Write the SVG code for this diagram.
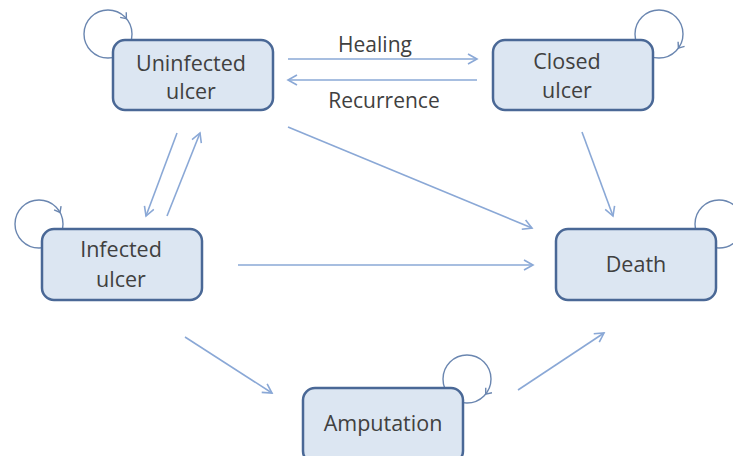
<svg xmlns="http://www.w3.org/2000/svg" xmlns:xlink="http://www.w3.org/1999/xlink" width="733" height="456" viewBox="0 0 733 456">
<style>
.box{fill:#dce6f2;stroke:#4a6896;stroke-width:2.5}
.lbl{font-family:"Open Sans","Liberation Sans",sans-serif;font-size:21.5px;fill:#404040;text-anchor:middle}
.elbl{font-family:"Open Sans","Liberation Sans",sans-serif;font-size:21px;fill:#404040;text-anchor:middle}
.edge{stroke:#8aa8d6;stroke-width:1.6;fill:none}
.loop{stroke:#6a86b0;stroke-width:1.4;fill:none}
</style>
<defs>
<marker id="arr" markerUnits="userSpaceOnUse" markerWidth="14" markerHeight="14" refX="10" refY="6" orient="auto">
<path d="M1,1 L10,6 L1,11" fill="none" stroke="#8aa8d6" stroke-width="1.6"/>
</marker>
<path id="chev" d="M-5,-4 L0,0 L-5,4" fill="none" stroke="#6a86b0" stroke-width="1.4"/>
</defs>
<g id="loops">
<circle class="loop" cx="108" cy="34" r="24"/>
<use xlink:href="#chev" transform="translate(126.4,18.6) rotate(50)"/>
<circle class="loop" cx="659" cy="34" r="24"/>
<use xlink:href="#chev" transform="translate(678.4,48.1) rotate(126)"/>
<circle class="loop" cx="39" cy="224" r="24"/>
<use xlink:href="#chev" transform="translate(60,212.4) rotate(61)"/>
<circle class="loop" cx="719" cy="224" r="24"/>
<circle class="loop" cx="467" cy="379" r="24"/>
<use xlink:href="#chev" transform="translate(485.7,394.1) rotate(129)"/>
</g>
<g id="connectors">
<line class="edge" x1="288" y1="59" x2="477" y2="59" marker-end="url(#arr)"/>
<line class="edge" x1="477" y1="80" x2="288" y2="80" marker-end="url(#arr)"/>
<line class="edge" x1="288" y1="127" x2="532" y2="228" marker-end="url(#arr)"/>
<line class="edge" x1="582" y1="132" x2="613" y2="216" marker-end="url(#arr)"/>
<line class="edge" x1="177" y1="133" x2="146" y2="216" marker-end="url(#arr)"/>
<line class="edge" x1="167" y1="216" x2="200" y2="133" marker-end="url(#arr)"/>
<line class="edge" x1="238" y1="265" x2="533" y2="265" marker-end="url(#arr)"/>
<line class="edge" x1="185" y1="337" x2="272" y2="393" marker-end="url(#arr)"/>
<line class="edge" x1="518" y1="390" x2="604" y2="333" marker-end="url(#arr)"/>
<text class="elbl" x="375" y="52">Healing</text>
<text class="elbl" x="384" y="108">Recurrence</text>
</g>
<g id="uninfected">
<rect class="box" x="113" y="40" width="160" height="70" rx="12"/>
<text class="lbl" x="191" y="71">Uninfected</text>
<text class="lbl" x="191" y="99">ulcer</text>
</g>
<g id="closed">
<rect class="box" x="493" y="40" width="160" height="70" rx="12"/>
<text class="lbl" x="567" y="69">Closed</text>
<text class="lbl" x="567" y="98">ulcer</text>
</g>
<g id="infected">
<rect class="box" x="42" y="229" width="160" height="71" rx="12"/>
<text class="lbl" x="121" y="257">Infected</text>
<text class="lbl" x="121" y="287">ulcer</text>
</g>
<g id="death">
<rect class="box" x="556" y="229" width="160" height="71" rx="12"/>
<text class="lbl" x="636" y="272">Death</text>
</g>
<g id="amputation">
<rect class="box" x="303" y="388" width="160" height="75" rx="12"/>
<text class="lbl" x="383" y="431">Amputation</text>
</g>
</svg>
